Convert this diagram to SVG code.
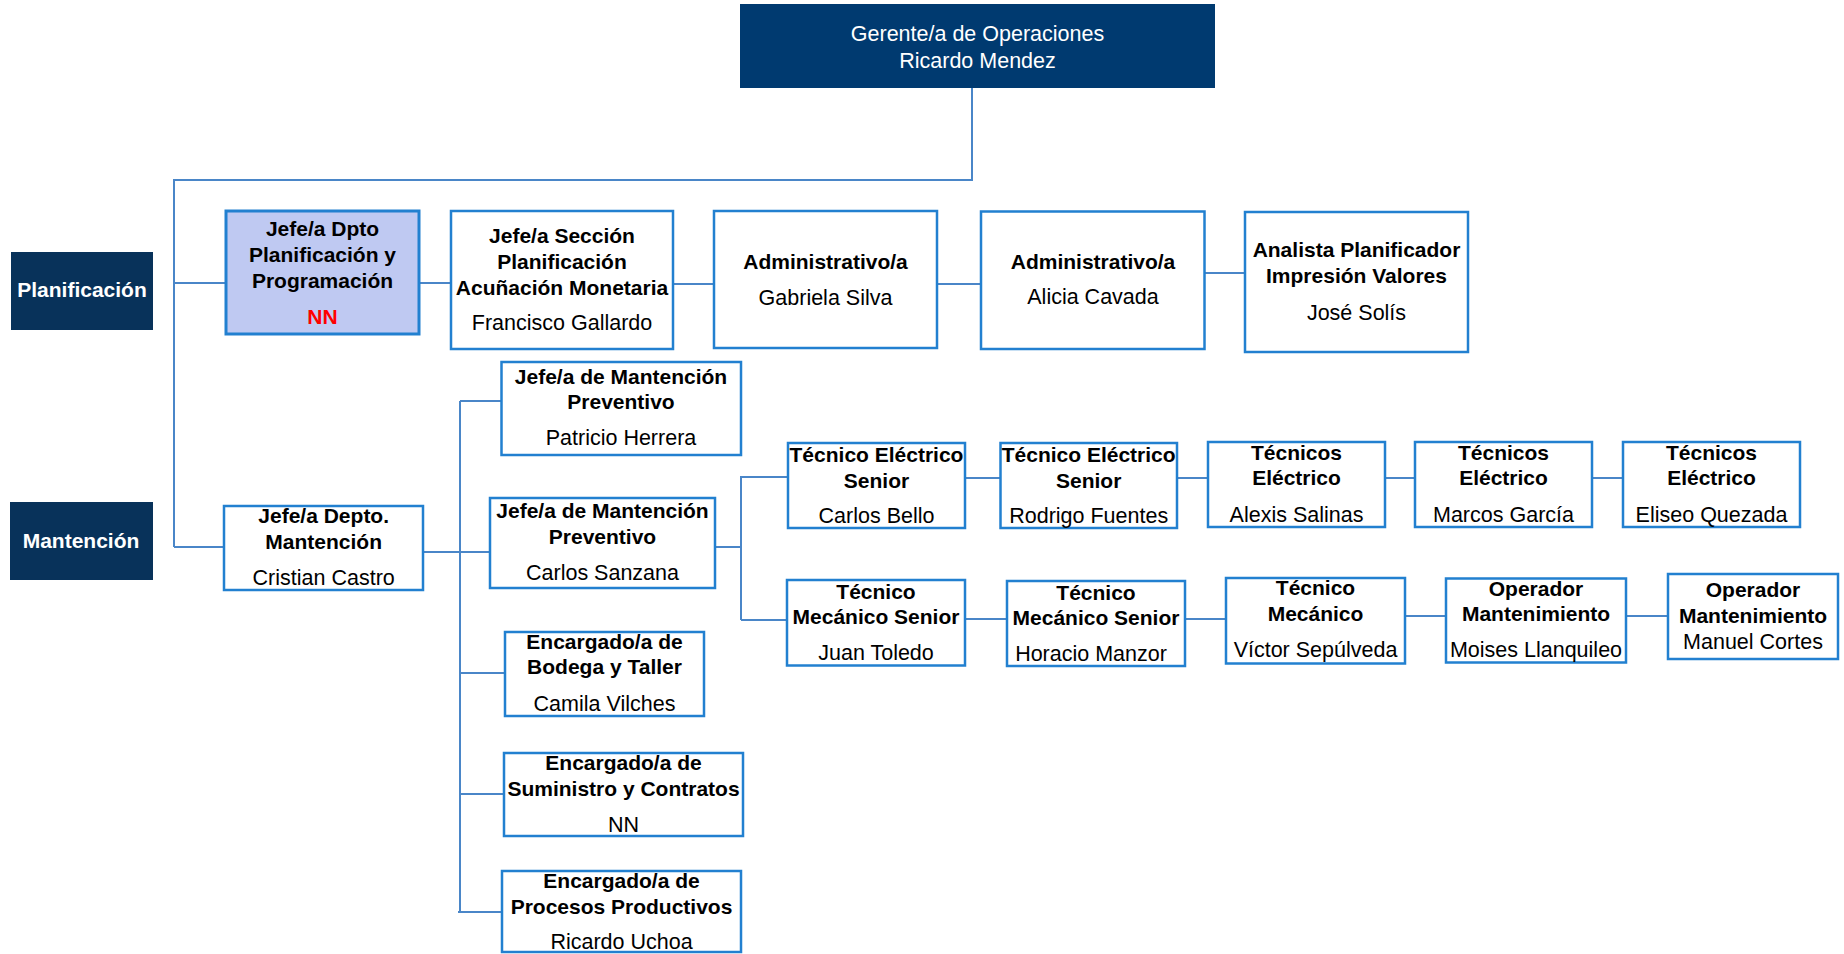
<svg xmlns="http://www.w3.org/2000/svg" width="1844" height="954" viewBox="0 0 1844 954">
<style>
  .box { fill: #ffffff; stroke: #2280d0; stroke-width: 2.5; }
  .hl { fill: #bfc9f2; stroke: #2280d0; stroke-width: 3; }
  .navy { fill: #003a70; }
  .dept { fill: #08325a; }
  .conn { stroke: #4a86c8; stroke-width: 2; fill: none; }
  text { font-family: "Liberation Sans", Arial, sans-serif; text-anchor: middle; fill: #000000; }
  .b { font-weight: bold; font-size: 21px; }
  .r { font-size: 21.5px; }
  .w { fill: #ffffff; }
  .red { fill: #ff0000; }
</style>
<rect width="1844" height="954" fill="#ffffff"/>
<g id="connectors">
  <polyline class="conn" points="972,88 972,180 173,180"/>
  <line class="conn" x1="174" y1="180" x2="174" y2="547"/>
  <line class="conn" x1="174" y1="283" x2="226" y2="283"/>
  <line class="conn" x1="174" y1="547" x2="224" y2="547"/>
  <line class="conn" x1="419" y1="283" x2="451" y2="283"/>
  <line class="conn" x1="673" y1="284" x2="714" y2="284"/>
  <line class="conn" x1="937" y1="284" x2="981" y2="284"/>
  <line class="conn" x1="1204" y1="273" x2="1245" y2="273"/>
  <line class="conn" x1="419" y1="552" x2="490" y2="552"/>
  <line class="conn" x1="460" y1="401" x2="460" y2="912"/>
  <line class="conn" x1="460" y1="401" x2="501" y2="401"/>
  <line class="conn" x1="460" y1="673" x2="505" y2="673"/>
  <line class="conn" x1="460" y1="794" x2="504" y2="794"/>
  <line class="conn" x1="458" y1="912" x2="502" y2="912"/>
  <line class="conn" x1="715" y1="547" x2="741" y2="547"/>
  <line class="conn" x1="741" y1="476" x2="741" y2="620"/>
  <line class="conn" x1="741" y1="477" x2="788" y2="477"/>
  <line class="conn" x1="741" y1="620" x2="787" y2="620"/>
  <line class="conn" x1="965" y1="478" x2="1000" y2="478"/>
  <line class="conn" x1="1177" y1="478" x2="1208" y2="478"/>
  <line class="conn" x1="1385" y1="478" x2="1415" y2="478"/>
  <line class="conn" x1="1592" y1="478" x2="1623" y2="478"/>
  <line class="conn" x1="965" y1="619" x2="1007" y2="619"/>
  <line class="conn" x1="1185" y1="619" x2="1226" y2="619"/>
  <line class="conn" x1="1405" y1="616" x2="1446" y2="616"/>
  <line class="conn" x1="1626" y1="616" x2="1668" y2="616"/>
</g>
<g id="gerente">
  <rect class="navy" x="740" y="4" width="475" height="84"/>
  <text class="r w" x="977.5" y="41">Gerente/a de Operaciones</text>
  <text class="r w" x="977.5" y="68">Ricardo Mendez</text>
</g>
<g id="planificacion">
  <rect class="dept" x="11" y="252" width="142" height="78"/>
  <text class="b w" x="82" y="297">Planificación</text>
</g>
<g id="mantencion">
  <rect class="dept" x="10" y="502" width="143" height="78"/>
  <text class="b w" x="81" y="548">Mantención</text>
</g>
<g id="jefe-dpto-planificacion">
  <rect class="hl" x="226" y="211" width="193" height="123"/>
  <text class="b" x="322.5" y="236">Jefe/a Dpto</text>
  <text class="b" x="322.5" y="262">Planificación y</text>
  <text class="b" x="322.5" y="288">Programación</text>
  <text class="b red" x="322.5" y="324">NN</text>
</g>
<g id="jefe-seccion">
  <rect class="box" x="451" y="211" width="222" height="138"/>
  <text class="b" x="562" y="243">Jefe/a Sección</text>
  <text class="b" x="562" y="269">Planificación</text>
  <text class="b" x="562" y="294.5">Acuñación Monetaria</text>
  <text class="r" x="562" y="330">Francisco Gallardo</text>
</g>
<g id="admin-gabriela">
  <rect class="box" x="714" y="211" width="223" height="137"/>
  <text class="b" x="825.5" y="269">Administrativo/a</text>
  <text class="r" x="825.5" y="304.5">Gabriela Silva</text>
</g>
<g id="admin-alicia">
  <rect class="box" x="981" y="211.5" width="223.5" height="137.5"/>
  <text class="b" x="1093" y="268.5">Administrativo/a</text>
  <text class="r" x="1093" y="304">Alicia Cavada</text>
</g>
<g id="analista">
  <rect class="box" x="1245" y="212" width="223" height="140"/>
  <text class="b" x="1356.5" y="257">Analista Planificador</text>
  <text class="b" x="1356.5" y="282.5">Impresión Valores</text>
  <text class="r" x="1356.5" y="319.5">José Solís</text>
</g>
<g id="jefe-depto-mantencion">
  <rect class="box" x="224" y="506" width="199" height="84"/>
  <text class="b" x="323.7" y="523">Jefe/a Depto.</text>
  <text class="b" x="323.7" y="549">Mantención</text>
  <text class="r" x="323.7" y="585">Cristian Castro</text>
</g>
<g id="jefe-preventivo-herrera">
  <rect class="box" x="501.5" y="362" width="239.5" height="93"/>
  <text class="b" x="621" y="383.5">Jefe/a de Mantención</text>
  <text class="b" x="621" y="409">Preventivo</text>
  <text class="r" x="621" y="445">Patricio Herrera</text>
</g>
<g id="jefe-preventivo-sanzana">
  <rect class="box" x="490" y="498" width="225" height="90"/>
  <text class="b" x="602.5" y="517.5">Jefe/a de Mantención</text>
  <text class="b" x="602.5" y="543.5">Preventivo</text>
  <text class="r" x="602.5" y="580">Carlos Sanzana</text>
</g>
<g id="encargado-bodega">
  <rect class="box" x="505" y="632" width="199" height="84"/>
  <text class="b" x="604.5" y="649">Encargado/a de</text>
  <text class="b" x="604.5" y="674">Bodega y Taller</text>
  <text class="r" x="604.5" y="710.5">Camila Vilches</text>
</g>
<g id="encargado-suministro">
  <rect class="box" x="504" y="753" width="239" height="83"/>
  <text class="b" x="623.5" y="770">Encargado/a de</text>
  <text class="b" x="623.5" y="796">Suministro y Contratos</text>
  <text class="r" x="623.5" y="831.5">NN</text>
</g>
<g id="encargado-procesos">
  <rect class="box" x="502" y="871" width="239" height="81"/>
  <text class="b" x="621.5" y="887.5">Encargado/a de</text>
  <text class="b" x="621.5" y="913.5">Procesos Productivos</text>
  <text class="r" x="621.5" y="949">Ricardo Uchoa</text>
</g>
<g id="tec-electrico-bello">
  <rect class="box" x="788" y="443" width="177" height="85"/>
  <text class="b" x="876.5" y="461.5">Técnico Eléctrico</text>
  <text class="b" x="876.5" y="487.5">Senior</text>
  <text class="r" x="876.5" y="522.5">Carlos Bello</text>
</g>
<g id="tec-electrico-fuentes">
  <rect class="box" x="1000.5" y="443" width="176.5" height="85"/>
  <text class="b" x="1088.7" y="461.5">Técnico Eléctrico</text>
  <text class="b" x="1088.7" y="487.5">Senior</text>
  <text class="r" x="1088.7" y="522.5">Rodrigo Fuentes</text>
</g>
<g id="tec-electrico-salinas">
  <rect class="box" x="1208" y="442" width="177" height="85"/>
  <text class="b" x="1296.5" y="460">Técnicos</text>
  <text class="b" x="1296.5" y="485">Eléctrico</text>
  <text class="r" x="1296.5" y="521.5">Alexis Salinas</text>
</g>
<g id="tec-electrico-garcia">
  <rect class="box" x="1415" y="442" width="177" height="85"/>
  <text class="b" x="1503.5" y="460">Técnicos</text>
  <text class="b" x="1503.5" y="485">Eléctrico</text>
  <text class="r" x="1503.5" y="521.5">Marcos García</text>
</g>
<g id="tec-electrico-quezada">
  <rect class="box" x="1623" y="442" width="177" height="85"/>
  <text class="b" x="1711.5" y="460">Técnicos</text>
  <text class="b" x="1711.5" y="485">Eléctrico</text>
  <text class="r" x="1711.5" y="521.5">Eliseo Quezada</text>
</g>
<g id="tec-mecanico-toledo">
  <rect class="box" x="787" y="580" width="178" height="85.5"/>
  <text class="b" x="876" y="598.5">Técnico</text>
  <text class="b" x="876" y="624">Mecánico Senior</text>
  <text class="r" x="876" y="660">Juan Toledo</text>
</g>
<g id="tec-mecanico-manzor">
  <rect class="box" x="1007" y="581" width="178" height="85"/>
  <text class="b" x="1096" y="599.5">Técnico</text>
  <text class="b" x="1096" y="625">Mecánico Senior</text>
  <text class="r" x="1091" y="661">Horacio Manzor</text>
</g>
<g id="tec-mecanico-sepulveda">
  <rect class="box" x="1226" y="578" width="179" height="85.5"/>
  <text class="b" x="1315.5" y="595">Técnico</text>
  <text class="b" x="1315.5" y="620.5">Mecánico</text>
  <text class="r" x="1315.5" y="657">Víctor Sepúlveda</text>
</g>
<g id="operador-llanquileo">
  <rect class="box" x="1446" y="578.5" width="180" height="84"/>
  <text class="b" x="1536" y="596">Operador</text>
  <text class="b" x="1536" y="621">Mantenimiento</text>
  <text class="r" x="1536" y="656.5">Moises Llanquileo</text>
</g>
<g id="operador-cortes">
  <rect class="box" x="1668" y="574" width="170" height="85"/>
  <text class="b" x="1753" y="597">Operador</text>
  <text class="b" x="1753" y="623">Mantenimiento</text>
  <text class="r" x="1753" y="648.5">Manuel Cortes</text>
</g>
</svg>
